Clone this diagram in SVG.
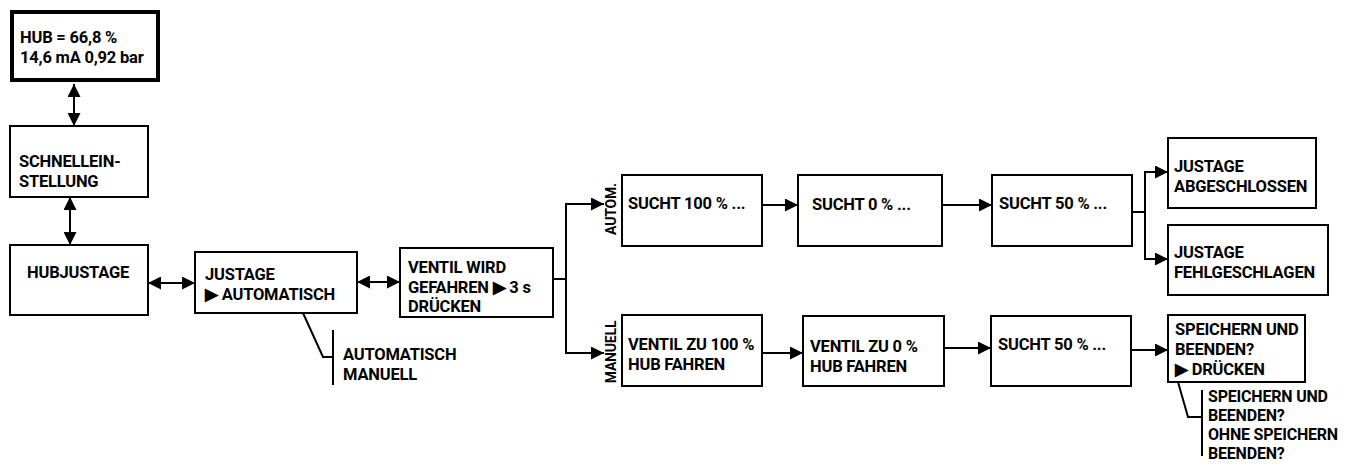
<svg xmlns="http://www.w3.org/2000/svg" width="1346" height="464" viewBox="0 0 1346 464">
<defs>
<style>
.box{fill:#fff;stroke:#000;stroke-width:2}
.thick{fill:#fff;stroke:#000;stroke-width:4}
.ln{fill:none;stroke:#000;stroke-width:2}
.ar{fill:none;stroke:#000;stroke-width:2;marker-end:url(#ah)}
.dar{fill:none;stroke:#000;stroke-width:2;marker-end:url(#ah);marker-start:url(#ah)}
text{font-family:Roboto,"Open Sans",sans-serif;font-weight:700;font-size:16.5px;letter-spacing:-0.2px;fill:#000}
.sm{font-size:14px;letter-spacing:-0.2px}
.op{font-size:16px}
</style>
<marker id="ah" markerUnits="userSpaceOnUse" markerWidth="13" markerHeight="13" viewBox="0 0 13 13" refX="13" refY="6.5" orient="auto-start-reverse">
<path d="M0,0 L13,6.5 L0,13 z" fill="#000"/>
</marker>
</defs>
<rect width="1346" height="464" fill="#fff"/>
<g id="connectors">
<line class="dar" x1="74" y1="84" x2="74" y2="126"/>
<line class="dar" x1="70" y1="197" x2="70" y2="245"/>
<line class="dar" x1="148" y1="283" x2="195" y2="283"/>
<line class="dar" x1="357" y1="282" x2="400" y2="282"/>
<polyline class="ln" points="303,313 323,357 333,357"/>
<line class="ln" x1="333" y1="330" x2="333" y2="385"/>
<polyline class="ln" points="553,279 566,279"/>
<line class="ln" x1="566" y1="203" x2="566" y2="354"/>
<line class="ar" x1="565" y1="204" x2="604" y2="204"/>
<line class="ar" x1="565" y1="353" x2="604" y2="353"/>
<line class="ar" x1="762" y1="205" x2="798" y2="205"/>
<line class="ar" x1="942" y1="205" x2="992" y2="205"/>
<polyline class="ln" points="1132,212 1145,212"/>
<line class="ln" x1="1145" y1="171" x2="1145" y2="260"/>
<line class="ar" x1="1144" y1="172" x2="1168" y2="172"/>
<line class="ar" x1="1144" y1="259" x2="1168" y2="259"/>
<line class="ar" x1="762" y1="353" x2="803" y2="353"/>
<line class="ar" x1="944" y1="348" x2="991" y2="348"/>
<line class="ar" x1="1131" y1="350" x2="1168" y2="350"/>
<polyline class="ln" points="1178,382 1188,417 1202,417"/>
<line class="ln" x1="1202" y1="390" x2="1202" y2="456"/>
</g>
<g id="hub-display">
<rect class="thick" x="12" y="12" width="146" height="68"/>
<text x="20" y="43">HUB = 66,8 %</text>
<text x="20" y="63">14,6 mA 0,92 bar</text>
</g>
<g id="schnelleinstellung">
<rect class="box" x="10" y="126" width="138" height="71"/>
<text x="19" y="167">SCHNELLEIN-</text>
<text x="19" y="187">STELLUNG</text>
</g>
<g id="hubjustage">
<rect class="box" x="10" y="245" width="138" height="70"/>
<text x="27" y="278">HUBJUSTAGE</text>
</g>
<g id="justage">
<rect class="box" x="195" y="252" width="162" height="61"/>
<text x="205" y="280">JUSTAGE</text>
<text x="205" y="300">▶ AUTOMATISCH</text>
</g>
<g id="justage-options">
<text x="343" y="360">AUTOMATISCH</text>
<text x="343" y="380">MANUELL</text>
</g>
<g id="ventil-wird">
<rect class="box" x="400" y="248" width="153" height="69"/>
<text x="408" y="273">VENTIL WIRD</text>
<text x="408" y="293">GEFAHREN ▶ 3 s</text>
<text x="408" y="312">DRÜCKEN</text>
</g>
<g id="label-autom">
<text class="sm" transform="translate(616,209) rotate(-90)" text-anchor="middle">AUTOM.</text>
</g>
<g id="label-manuell">
<text class="sm" transform="translate(616,352) rotate(-90)" text-anchor="middle">MANUELL</text>
</g>
<g id="sucht100">
<rect class="box" x="622" y="175" width="140" height="71"/>
<text x="628" y="209">SUCHT 100 % ...</text>
</g>
<g id="sucht0">
<rect class="box" x="798" y="175" width="144" height="71"/>
<text x="812" y="210">SUCHT 0 % ...</text>
</g>
<g id="sucht50-auto">
<rect class="box" x="992" y="175" width="140" height="71"/>
<text x="999" y="209">SUCHT 50 % ...</text>
</g>
<g id="abgeschlossen">
<rect class="box" x="1168" y="138" width="148" height="70"/>
<text x="1174" y="172">JUSTAGE</text>
<text x="1174" y="192">ABGESCHLOSSEN</text>
</g>
<g id="fehlgeschlagen">
<rect class="box" x="1168" y="225" width="160" height="70"/>
<text x="1174" y="258">JUSTAGE</text>
<text x="1174" y="278">FEHLGESCHLAGEN</text>
</g>
<g id="ventil100">
<rect class="box" x="622" y="315" width="140" height="71"/>
<text x="628" y="350">VENTIL ZU 100 %</text>
<text x="628" y="370">HUB FAHREN</text>
</g>
<g id="ventil0">
<rect class="box" x="803" y="316" width="141" height="70"/>
<text x="810" y="352">VENTIL ZU 0 %</text>
<text x="810" y="372">HUB FAHREN</text>
</g>
<g id="sucht50-manuell">
<rect class="box" x="991" y="316" width="140" height="70"/>
<text x="998" y="350">SUCHT 50 % ...</text>
</g>
<g id="speichern">
<rect class="box" x="1168" y="315" width="137" height="67"/>
<text x="1175" y="335">SPEICHERN UND</text>
<text x="1175" y="355">BEENDEN?</text>
<text x="1175" y="375">▶ DRÜCKEN</text>
</g>
<g id="speichern-options">
<text class="op" x="1208" y="402">SPEICHERN UND</text>
<text class="op" x="1208" y="421">BEENDEN?</text>
<text class="op" x="1208" y="440">OHNE SPEICHERN</text>
<text class="op" x="1208" y="459">BEENDEN?</text>
</g>
</svg>
